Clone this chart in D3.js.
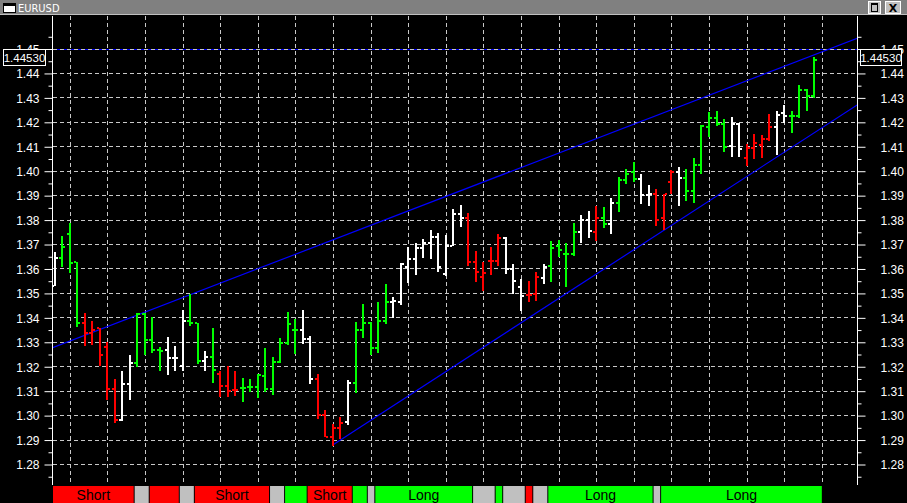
<!DOCTYPE html>
<html><head><meta charset="utf-8">
<script src="https://cdn.jsdelivr.net/npm/d3@7"></script>
<style>body{margin:0;background:#000;overflow:hidden}svg{display:block}</style>
</head><body><svg id="c" width="907" height="503"></svg>
<script>
const symbol = "EURUSD";
const lastPriceLabel = "1.44530";
const lastPrice = 1.4453;
const opens  = [1.3530,1.3644,1.3739,1.3627,1.3378,1.3337,1.3355,1.3280,1.3108,1.2980,1.3129,1.3214,1.3413,1.3309,1.3268,1.3268,1.3235,1.3202,1.3386,1.3378,1.3223,1.3239,1.3168,1.3119,1.3103,1.3112,1.3116,1.3116,1.3161,1.3108,1.3219,1.3294,1.3348,1.3348,1.3313,1.3148,1.3002,1.2912,1.2949,1.2973,1.3133,1.3348,1.3378,1.3276,1.3386,1.3461,1.3461,1.3605,1.3639,1.3682,1.3703,1.3730,1.3577,1.3692,1.3823,1.3805,1.3628,1.3567,1.3632,1.3632,1.3726,1.3599,1.3525,1.3491,1.3496,1.3562,1.3610,1.3693,1.3658,1.3658,1.3750,1.3800,1.3750,1.3807,1.3780,1.3867,1.3962,1.3993,1.3968,1.3902,1.3906,1.3805,1.3955,1.3996,1.3970,1.3915,1.4022,1.4180,1.4217,1.4191,1.4100,1.4191,1.4050,1.4091,1.4107,1.4130,1.4178,1.4235,1.4222,1.4222,1.4331,1.4304];
const highs  = [1.3666,1.3733,1.3786,1.3627,1.3417,1.3385,1.3355,1.3298,1.3148,1.3181,1.3246,1.3417,1.3419,1.3400,1.3279,1.3320,1.3283,1.3430,1.3497,1.3378,1.3262,1.3355,1.3181,1.3201,1.3181,1.3152,1.3148,1.3168,1.3275,1.3238,1.3316,1.3422,1.3393,1.3430,1.3324,1.3168,1.3021,1.2964,1.2992,1.3144,1.3381,1.3455,1.3380,1.3463,1.3536,1.3482,1.3621,1.3687,1.3706,1.3721,1.3757,1.3746,1.3737,1.3843,1.3860,1.3829,1.3672,1.3628,1.3688,1.3741,1.3729,1.3618,1.3558,1.3549,1.3586,1.3618,1.3712,1.3717,1.3703,1.3785,1.3818,1.3835,1.3856,1.3850,1.3887,1.3973,1.4007,1.4034,1.3985,1.3942,1.3925,1.3905,1.4003,1.4014,1.4006,1.4053,1.4186,1.4239,1.4246,1.4213,1.4218,1.4194,1.4111,1.4150,1.4146,1.4232,1.4244,1.4268,1.4244,1.4350,1.4334,1.4466];
const lows   = [1.3528,1.3607,1.3581,1.3362,1.3284,1.3288,1.3202,1.3063,1.2969,1.2975,1.3063,1.3196,1.3246,1.3255,1.3182,1.3165,1.3182,1.3182,1.3366,1.3210,1.3182,1.3133,1.3076,1.3076,1.3080,1.3055,1.3096,1.3071,1.3096,1.3084,1.3215,1.3288,1.3251,1.3292,1.3128,1.2985,1.2909,1.2875,1.2902,1.2961,1.3092,1.3317,1.3248,1.3255,1.3371,1.3399,1.3452,1.3541,1.3575,1.3643,1.3639,1.3587,1.3571,1.3692,1.3771,1.3612,1.3546,1.3509,1.3575,1.3612,1.3577,1.3497,1.3427,1.3462,1.3466,1.3536,1.3546,1.3648,1.3525,1.3652,1.3706,1.3726,1.3714,1.3767,1.3742,1.3832,1.3944,1.3955,1.3864,1.3857,1.3774,1.3756,1.3906,1.3857,1.3876,1.3869,1.3985,1.4138,1.4181,1.4077,1.4057,1.4058,1.4020,1.4049,1.4053,1.4122,1.4064,1.4196,1.4156,1.4216,1.4244,1.4297];
const closes = [1.3644,1.3686,1.3624,1.3378,1.3337,1.3349,1.3247,1.3108,1.2980,1.3129,1.3214,1.3413,1.3309,1.3268,1.3264,1.3235,1.3235,1.3386,1.3378,1.3223,1.3239,1.3186,1.3119,1.3100,1.3103,1.3112,1.3116,1.3165,1.3108,1.3219,1.3294,1.3372,1.3348,1.3313,1.3148,1.3002,1.2912,1.2949,1.2969,1.3133,1.3348,1.3378,1.3276,1.3386,1.3461,1.3466,1.3618,1.3639,1.3682,1.3703,1.3730,1.3605,1.3692,1.3823,1.3805,1.3628,1.3587,1.3583,1.3632,1.3726,1.3599,1.3550,1.3489,1.3491,1.3564,1.3607,1.3684,1.3676,1.3658,1.3750,1.3800,1.3754,1.3807,1.3780,1.3867,1.3962,1.3987,1.3968,1.3902,1.3906,1.3798,1.3905,1.3996,1.3970,1.3915,1.4022,1.4183,1.4217,1.4191,1.4097,1.4190,1.4089,1.4091,1.4115,1.4130,1.4178,1.4226,1.4222,1.4222,1.4331,1.4304,1.4453];
const barColors = "wgggrrrrrwwggggwwwggwgrrrggggggggwwrrrrwgggggwwwwwwwwwwrrrrrwwwrrwggggwwrgwgggwwrrrwggggggwwrrrrwwgggggg".split("");
const priceTicks = [1.28,1.29,1.30,1.31,1.32,1.33,1.34,1.35,1.36,1.37,1.38,1.39,1.40,1.41,1.42,1.43,1.44,1.45];
const minorTicks = [1.275,1.285,1.295,1.305,1.315,1.325,1.335,1.345,1.355,1.365,1.375,1.385,1.395,1.405,1.415,1.425,1.435,1.445,1.455];
const timeGridBars = [2,7,12,17,22,27,32,37,42,47,52,57,62,67,72,77,82,87,92,97,102];
// trend lines: [barIndex, price] pairs
const upperTrend = [[-0.36,1.3275],[106.7,1.4542]];
const lowerTrend = [[36.97,1.2878],[106.7,1.4269]];
const levelLine = [[-0.36,1.4500],[106.7,1.4500]];
// signal strip
const segStart = [0,11,13,17,19,29,31,34,40,42,43,56,59,60,63,64,66,80,81];
const segEnd   = [10,12,16,18,28,30,33,39,41,42,55,58,59,62,63,65,79,80,101.5];
const segColor = ["r","n","r","n","r","n","g","r","g","n","g","n","g","n","r","n","g","n","g"];
const segLabel = ["Short","","","","Short","","","Short","","","Long","","","","","","Long","","Long"];

const colorMap = {w:"#ffffff", g:"#00ff00", r:"#ff0000", n:"#c0c0c0"};
const svg = d3.select("#c");
const W = 907, H = 503;
const plot = {left:52, right:857, top:16, bottom:485};

const x = d3.scaleLinear().domain([0,101]).range([54.7,814.3]);
const y = d3.scaleLinear().domain([1.28,1.45]).range([464,48.5]);

svg.append("rect").attr("width",W).attr("height",H).attr("fill","#000");

// title bar
svg.append("rect").attr("x",0).attr("y",0).attr("width",W).attr("height",15).attr("fill","#808080");
svg.append("rect").attr("x",0).attr("y",14).attr("width",W).attr("height",1).attr("fill","#c0c0c0");
svg.append("rect").attr("x",3.5).attr("y",3.5).attr("width",12).attr("height",9).attr("fill","#fff").attr("stroke","#000");
svg.append("rect").attr("x",4).attr("y",4).attr("width",11).attr("height",2).attr("fill","#000");
svg.append("text").attr("x",18).attr("y",12).attr("fill","#fff")
  .attr("font-family","'DejaVu Sans Condensed','Liberation Sans Narrow',Arial").attr("font-size",11)
  .text(symbol);
[[868,"max"],[885,"close"]].forEach(([bx,kind])=>{
  svg.append("rect").attr("x",bx+0.5).attr("y",1.5).attr("width",kind==="max"?12:15).attr("height",12)
     .attr("fill","#c0c0c0").attr("stroke","#fff");
  if(kind==="max"){
    svg.append("rect").attr("x",bx+3.5).attr("y",3.5).attr("width",6).attr("height",8).attr("fill","none").attr("stroke","#000");
    svg.append("rect").attr("x",bx+3).attr("y",3).attr("width",7).attr("height",2).attr("fill","#000");
  } else {
    svg.append("text").attr("x",bx+8).attr("y",12).attr("text-anchor","middle").attr("fill","#000")
      .attr("font-family","'DejaVu Sans',Arial").attr("font-weight","bold").attr("font-size",11).text("X");
  }
});

const clip = svg.append("defs").append("clipPath").attr("id","pc");
clip.append("rect").attr("x",plot.left).attr("y",plot.top).attr("width",plot.right-plot.left).attr("height",plot.bottom-plot.top);
const g = svg.append("g").attr("clip-path","url(#pc)");

const lineGen = d3.line().x(d=>x(d[0])).y(d=>Math.round(y(d[1]))+0.5);
const lineGen2 = d3.line().x(d=>x(d[0])).y(d=>y(d[1]));
g.append("path").datum(levelLine).attr("d",lineGen).attr("stroke","#0000ff").attr("fill","none").attr("stroke-width",1).attr("shape-rendering","crispEdges");

g.selectAll(".hg").data(priceTicks).join("line")
  .attr("x1",plot.left+1).attr("x2",plot.right)
  .attr("y1",d=>Math.round(y(d))+0.5).attr("y2",d=>Math.round(y(d))+0.5)
  .attr("stroke","#c8c8c8").attr("stroke-dasharray","4,3").attr("shape-rendering","crispEdges");
g.selectAll(".vg").data(timeGridBars).join("line")
  .attr("x1",d=>Math.round(x(d))+0.5).attr("x2",d=>Math.round(x(d))+0.5)
  .attr("y1",plot.top).attr("y2",plot.bottom)
  .attr("stroke","#c8c8c8").attr("stroke-dasharray","4,3").attr("shape-rendering","crispEdges");

g.append("path").datum(upperTrend).attr("d",lineGen2).attr("stroke","#0000ff").attr("fill","none").attr("stroke-width",1.2);
g.append("path").datum(lowerTrend).attr("d",lineGen2).attr("stroke","#0000ff").attr("fill","none").attr("stroke-width",1.2);

const bars = d3.range(opens.length).map(i=>({i,o:opens[i],h:highs[i],l:lows[i],c:closes[i],col:colorMap[barColors[i]]}));
const bg = g.append("g").attr("shape-rendering","crispEdges");
bars.forEach(b=>{
  const cx = Math.round(x(b.i));
  const yh = Math.round(y(b.h)), yl = Math.round(y(b.l));
  bg.append("rect").attr("x",cx-1).attr("y",yh).attr("width",2).attr("height",Math.max(2,yl-yh)).attr("fill",b.col);
  bg.append("rect").attr("x",cx-3).attr("y",Math.round(y(b.o))-1).attr("width",2).attr("height",2).attr("fill",b.col);
  bg.append("rect").attr("x",cx+1).attr("y",Math.round(y(b.c))-1).attr("width",2).attr("height",2).attr("fill",b.col);
});

const axisCol = "#fff";
svg.append("line").attr("x1",plot.left+0.5).attr("x2",plot.left+0.5).attr("y1",plot.top).attr("y2",plot.bottom).attr("stroke",axisCol);
svg.append("line").attr("x1",plot.right+0.5).attr("x2",plot.right+0.5).attr("y1",plot.top).attr("y2",plot.bottom).attr("stroke",axisCol);

const leftAxis = d3.axisLeft(y).tickValues(priceTicks).tickSize(8).tickPadding(5).tickFormat(d3.format(".2f"));
const rightAxis = d3.axisRight(y).tickValues(priceTicks).tickSize(8).tickPadding(15).tickFormat(d3.format(".2f"));
const la = svg.append("g").attr("transform",`translate(${plot.left+0.5},0.5)`).call(leftAxis);
const ra = svg.append("g").attr("transform",`translate(${plot.right+0.5},0.5)`).call(rightAxis);
[la,ra].forEach(a=>{
  a.select(".domain").remove();
  a.selectAll("line").attr("stroke",axisCol);
  a.selectAll("text").attr("fill",axisCol).attr("font-family","'Liberation Sans',Arial").attr("font-size",12).attr("dy","0.36em");
});
svg.append("g").attr("transform",`translate(${plot.left+0.5},0.5)`).call(d3.axisLeft(y).tickValues(minorTicks).tickSize(4).tickFormat(""))
  .call(a=>{a.select(".domain").remove();a.selectAll("line").attr("stroke",axisCol);});
svg.append("g").attr("transform",`translate(${plot.right+0.5},0.5)`).call(d3.axisRight(y).tickValues(minorTicks).tickSize(4).tickFormat(""))
  .call(a=>{a.select(".domain").remove();a.selectAll("line").attr("stroke",axisCol);});

const py = Math.round(y(lastPrice)) - 2;
[[3.5,42],[860.5,41]].forEach(([bx,bw])=>{
  svg.append("rect").attr("x",bx).attr("y",py-8.5).attr("width",bw).attr("height",16).attr("fill","#000").attr("stroke","#fff");
  svg.append("text").attr("x",bx+bw/2).attr("y",py).attr("dy","0.36em").attr("text-anchor","middle")
    .attr("fill","#fff").attr("font-family","'Liberation Sans',Arial").attr("font-size",11.5).text(lastPriceLabel);
});

const strip = svg.append("g");
const stripTop = 486, stripBot = 503;
segStart.forEach((s,k)=>{
  const x0 = Math.max(53, x(s-0.5)+1), x1 = x(segEnd[k]+0.5);
  strip.append("rect").attr("x",x0).attr("y",stripTop).attr("width",x1-x0).attr("height",stripBot-stripTop)
    .attr("fill",colorMap[segColor[k]]);
  if(segLabel[k]) strip.append("text").attr("x",(x0+x1)/2).attr("y",500).attr("text-anchor","middle")
    .attr("fill","#000").attr("font-family","'Liberation Sans',Arial").attr("font-size",14).text(segLabel[k]);
});
</script></body></html>
